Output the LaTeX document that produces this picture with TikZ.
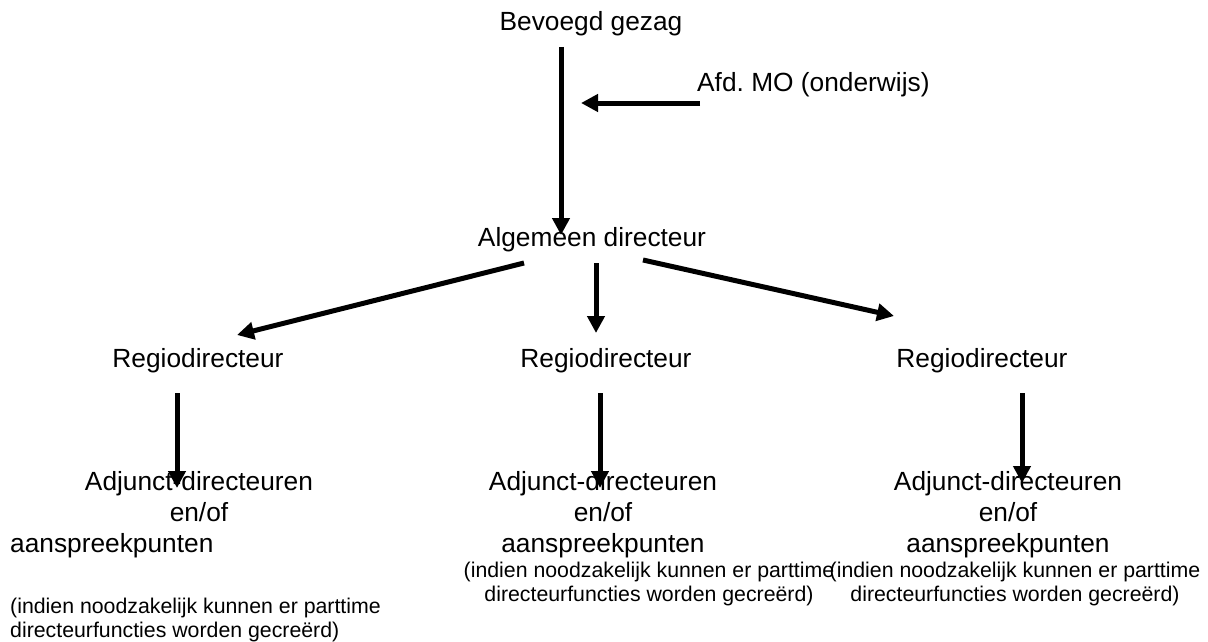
\documentclass[tikz,border=0pt]{standalone}
\usepackage{fontspec}
\setmainfont{Liberation Sans}
\frenchspacing
\usetikzlibrary{arrows.meta,calc}

\begin{document}
\begin{tikzpicture}[x=1pt,y=-1pt]
  \tikzset{
    tekst/.style={inner sep=0pt,anchor=base,align=center,font=\fontsize{26.3}{31}\selectfont},
    noot/.style={inner sep=0pt,anchor=base,align=center,font=\fontsize{21.3}{24}\selectfont},
    pijl/.style={line width=5pt,-{Triangle[length=17pt,width=17pt]}}
  }
  \useasboundingbox (0,0) rectangle (1208,642);

  \node[tekst] (bevoegd) at (591,31) {Bevoegd gezag};
  \node[tekst,anchor=base west] (afdmo) at (697,92) {Afd. MO (onderwijs)};
  \node[tekst] (algemeen) at (592,246) {Algemeen directeur};

  \node[tekst] (regio1) at (198,367) {Regiodirecteur};
  \node[tekst] (regio2) at (606,367) {Regiodirecteur};
  \node[tekst] (regio3) at (982,367) {Regiodirecteur};

  % base = laatste regel
  \node[tekst] (adj1) at (199,521) {Adjunct-directeuren\\en/of};
  \node[tekst,anchor=base west] (aanspr1) at (10,552) {aanspreekpunten};
  \node[noot,anchor=base west,align=left] (noot1) at (10,637)
    {(indien noodzakelijk kunnen er parttime\\directeurfuncties worden gecreërd)};

  \node[tekst] (adj2) at (603,552) {Adjunct-directeuren\\en/of\\aanspreekpunten};
  \node[noot] (noot2) at (649,601)
    {(indien noodzakelijk kunnen er parttime\\directeurfuncties worden gecreërd)};

  \node[tekst] (adj3) at (1008,552) {Adjunct-directeuren\\en/of\\aanspreekpunten};
  \node[noot] (noot3) at (1015,601)
    {(indien noodzakelijk kunnen er parttime\\directeurfuncties worden gecreërd)};

  % pijlen
  \draw[pijl] ($(bevoegd.base)+(-30,16)$) -- ($(algemeen.base)+(-31,-11)$);
  \draw[pijl] ($(afdmo.base west)+(3,11)$) -- ($(afdmo.base west)+(-116,11)$);
  \draw[pijl] ($(algemeen.base)+(-68,17)$) -- ($(regio1.base)+(39,-32)$);
  \draw[pijl] ($(algemeen.base)+(4,17)$) -- ($(regio2.base)+(-10,-34)$);
  \draw[pijl] ($(algemeen.base)+(51,14)$) -- ($(regio3.base)+(-88,-51)$);
  \draw[pijl] ($(regio1.base)+(-21,26)$) -- ($(adj1.base)+(-22,-33)$);
  \draw[pijl] ($(regio2.base)+(-6,26)$) -- ($(adj2.base)+(-3,-64)$);
  \draw[pijl] ($(regio3.base)+(40,26)$) -- ($(adj3.base)+(14,-69)$);
\end{tikzpicture}
\end{document}
